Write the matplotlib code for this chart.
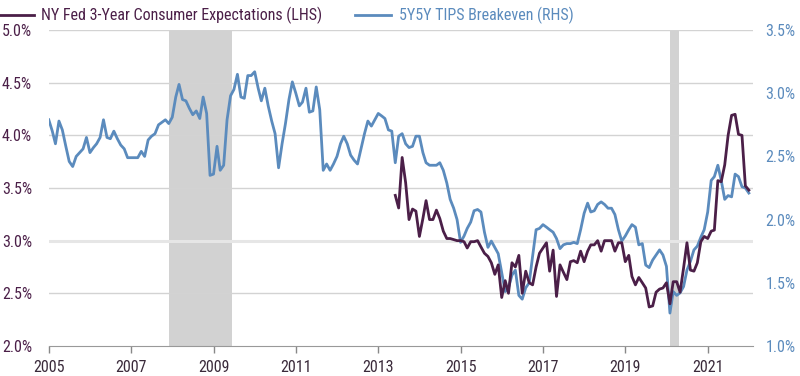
import matplotlib
matplotlib.use("Agg")
import matplotlib.pyplot as plt
import matplotlib.dates as mdates
from matplotlib import font_manager
import pandas as pd

# --- data ---
# 5Y5Y TIPS breakeven, monthly, Jan 2005 - Jan 2022 (RHS, %)
tips_5y5y = [
    2.79, 2.70, 2.60, 2.78, 2.71, 2.58, 2.46, 2.42, 2.50, 2.53, 2.56, 2.65,  # 2005
    2.53, 2.57, 2.60, 2.65, 2.79, 2.65, 2.64, 2.70, 2.64, 2.59, 2.56, 2.49,  # 2006
    2.49, 2.49, 2.49, 2.54, 2.50, 2.63, 2.66, 2.68, 2.75, 2.77, 2.79, 2.76,  # 2007
    2.81, 2.97, 3.07, 2.95, 2.94, 2.88, 2.83, 2.86, 2.80, 2.97, 2.84, 2.35,  # 2008
    2.36, 2.58, 2.39, 2.43, 2.79, 2.98, 3.03, 3.15, 2.97, 2.96, 3.14, 3.14,  # 2009
    3.17, 3.04, 2.94, 3.04, 2.90, 2.78, 2.68, 2.41, 2.60, 2.76, 2.95, 3.09,  # 2010
    3.00, 2.90, 2.93, 3.04, 2.85, 2.86, 3.05, 2.87, 2.39, 2.44, 2.39, 2.44,  # 2011
    2.50, 2.60, 2.66, 2.60, 2.51, 2.47, 2.44, 2.56, 2.68, 2.78, 2.74, 2.79,  # 2012
    2.84, 2.82, 2.80, 2.71, 2.70, 2.45, 2.66, 2.68, 2.60, 2.57, 2.58, 2.66,  # 2013
    2.66, 2.53, 2.45, 2.43, 2.43, 2.43, 2.45, 2.39, 2.29, 2.16, 2.09, 2.00,  # 2014
    1.82, 1.87, 1.93, 1.98, 2.07, 2.08, 2.06, 1.90, 1.78, 1.83, 1.78, 1.73,  # 2015
    1.58, 1.43, 1.46, 1.56, 1.60, 1.40, 1.37, 1.46, 1.50, 1.71, 1.92, 1.93,  # 2016
    1.96, 1.94, 1.92, 1.90, 1.85, 1.77, 1.80, 1.81, 1.81, 1.82, 1.81, 1.92,  # 2017
    2.05, 2.13, 2.06, 2.07, 2.12, 2.14, 2.12, 2.09, 2.09, 2.04, 1.92, 1.83,  # 2018
    1.87, 1.92, 1.96, 1.94, 1.80, 1.81, 1.64, 1.62, 1.68, 1.72, 1.76, 1.72,  # 2019
    1.63, 1.26, 1.43, 1.40, 1.42, 1.47, 1.60, 1.67, 1.76, 1.79, 1.86, 1.92,  # 2020
    2.06, 2.31, 2.34, 2.43, 2.31, 2.16, 2.19, 2.18, 2.36, 2.34, 2.26, 2.25,  # 2021
    2.21,                                                                    # 2022
]

# NY Fed 3-year consumer expectations, monthly, Jun 2013 - Jan 2022 (LHS, %)
nyfed_3y = [
    3.43, 3.31, 3.79, 3.55, 3.20, 3.30, 3.28,                                # 2013 (Jun-Dec)
    3.04, 3.21, 3.38, 3.20, 3.20, 3.29, 3.21, 3.09, 3.02, 3.02, 3.01, 3.00,  # 2014
    3.00, 2.99, 2.93, 2.99, 2.99, 3.00, 2.94, 2.88, 2.85, 2.79, 2.68, 2.77,  # 2015
    2.46, 2.62, 2.50, 2.79, 2.75, 2.86, 2.50, 2.71, 2.60, 2.58, 2.75, 2.88,  # 2016
    2.93, 2.98, 2.71, 2.91, 2.47, 2.77, 2.70, 2.63, 2.80, 2.81, 2.79, 2.90,  # 2017
    2.80, 2.90, 2.96, 2.96, 3.00, 2.90, 3.00, 3.00, 3.00, 2.90, 2.98, 2.98,  # 2018
    2.80, 2.86, 2.66, 2.58, 2.65, 2.60, 2.55, 2.37, 2.38, 2.51, 2.54, 2.55,  # 2019
    2.60, 2.40, 2.61, 2.61, 2.51, 2.74, 2.98, 2.72, 2.71, 2.79, 2.99, 3.04,  # 2020
    3.02, 3.09, 3.10, 3.57, 3.56, 3.72, 4.00, 4.19, 4.20, 4.01, 4.00, 3.52,  # 2021
    3.48,                                                                    # 2022
]

tips_dates = pd.date_range("2005-01-01", periods=len(tips_5y5y), freq="MS")
nyfed_dates = pd.date_range("2013-06-01", periods=len(nyfed_3y), freq="MS")

recessions = [("2007-12-01", "2009-06-15"), ("2020-02-01", "2020-04-20")]

left_ticks = [2.0, 2.5, 3.0, 3.5, 4.0, 4.5, 5.0]
right_ticks = [1.0, 1.5, 2.0, 2.5, 3.0, 3.5]
year_ticks = list(range(2005, 2022, 2))

PURPLE = "#4b1f48"
BLUE = "#5b8bbd"
GRID = "#d3d3d3"
SHADE = "#d2d2d2"
XLAB = "#3a2a3a"

# narrow font if one is installed
names = {f.name for f in font_manager.fontManager.ttflist}
font = "DejaVu Sans"
for cand in ["Liberation Sans Narrow", "Roboto Condensed", "Open Sans Condensed", "Roboto", "Noto Sans"]:
    if cand in names:
        font = cand
        break
plt.rcParams["font.family"] = [font, "DejaVu Sans"]

fig = plt.figure(figsize=(8, 3.76), dpi=100)
ax = fig.add_axes([0.061, 0.080, 0.880, 0.840])
ax2 = ax.twinx()

ax.set_ylim(2.0, 5.0)
ax2.set_ylim(1.0, 3.5)

# background (shading + grid) lives on the lower axes so both lines sit on top
for start, end in recessions:
    ax2.axvspan(pd.Timestamp(start), pd.Timestamp(end), color=SHADE, lw=0, zorder=0)

for v in left_ticks[1:]:
    yf = (v - left_ticks[0]) / (left_ticks[-1] - left_ticks[0])
    if v == 3.0:
        ax2.plot([0, 1], [yf, yf], transform=ax2.transAxes, color="#e6e6e6", lw=2.2, zorder=0.5)
    else:
        ax2.plot([0, 1], [yf, yf], transform=ax2.transAxes, color=GRID, lw=1, zorder=0.5)

ax.plot(nyfed_dates, nyfed_3y, color=PURPLE, lw=2, zorder=3,
        label="NY Fed 3-Year Consumer Expectations (LHS)")
ax2.plot(tips_dates, tips_5y5y, color=BLUE, lw=2, zorder=2,
         label="5Y5Y TIPS Breakeven (RHS)")
ax.set_zorder(ax2.get_zorder() + 1)
ax.patch.set_visible(False)

ax.set_xlim(pd.Timestamp("2005-01-01"), pd.Timestamp("2022-02-05"))

ax.set_yticks(left_ticks)
ax.set_yticklabels([f"{v:.1f}%" for v in left_ticks])
ax2.set_yticks(right_ticks)
ax2.set_yticklabels([f"{v:.1f}%" for v in right_ticks])
ax.set_xticks([pd.Timestamp(f"{y}-01-01") for y in year_ticks])
ax.xaxis.set_major_formatter(mdates.DateFormatter("%Y"))

ax.tick_params(axis="y", length=0, pad=12, labelsize=11.5, labelcolor=PURPLE)
ax2.tick_params(axis="y", length=0, pad=9, labelsize=11.5, labelcolor=BLUE)
ax.tick_params(axis="x", length=5, width=1, color="#888888", pad=5,
               labelsize=11.5, labelcolor=XLAB)

for a in (ax, ax2):
    for s in ("top", "left", "right"):
        a.spines[s].set_visible(False)
    a.spines["bottom"].set_color("#999999")
ax2.spines["bottom"].set_visible(False)

h1, l1 = ax.get_legend_handles_labels()
h2, l2 = ax2.get_legend_handles_labels()
leg = fig.legend(h1 + h2[-1:], l1 + l2[-1:], loc="upper left", bbox_to_anchor=(-0.022, 1.02),
                 ncol=2, frameon=False, fontsize=11.5, handlelength=2.3,
                 handletextpad=0.5, columnspacing=2.0)
for text, col in zip(leg.get_texts(), [PURPLE, BLUE]):
    text.set_color(col)

fig.savefig("out.png", dpi=100)
